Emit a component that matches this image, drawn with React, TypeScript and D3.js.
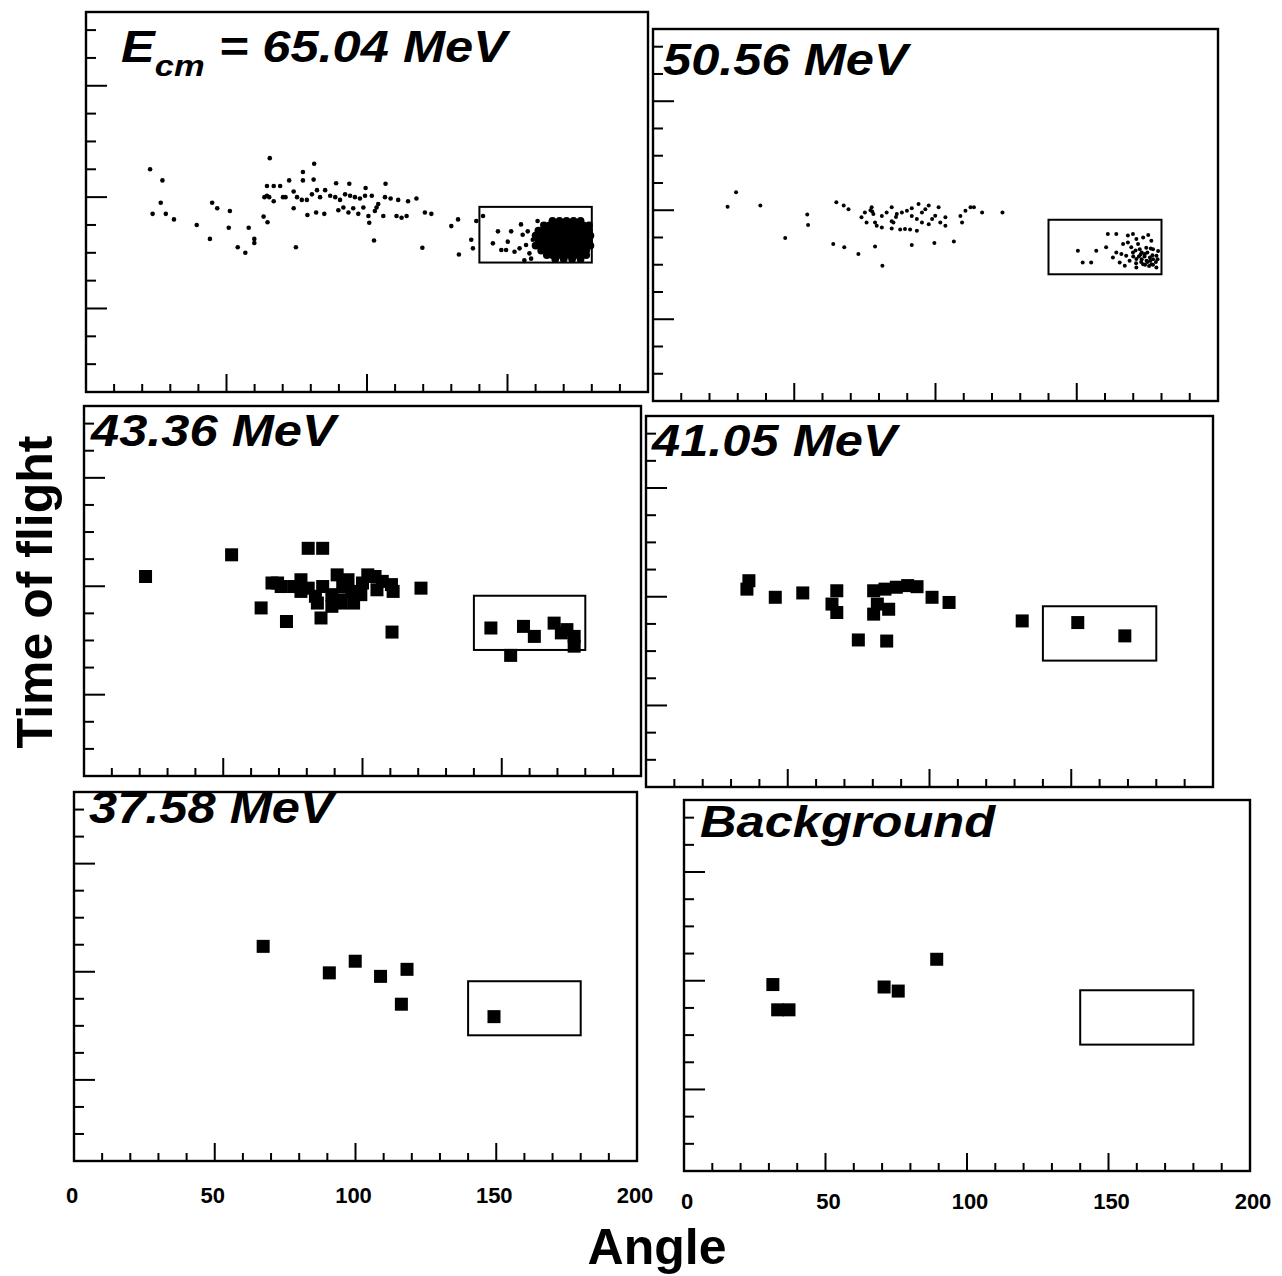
import * as d3 from 'd3'
import { useEffect, useRef } from 'react'

const W = 1282, H = 1276
const FONT = "'Liberation Sans', Arial, Helvetica, sans-serif"

// axes: angle (deg) and time-of-flight (channels, arbitrary)
const angleDomain = [0, 200]
const tofDomain = [0, 13.65]
const angleLabels = [0, 50, 100, 150, 200]
const angleMajor = [50, 100, 150]
const angleMinor = [10, 20, 30, 40, 60, 70, 80, 90, 110, 120, 130, 140, 160, 170, 180, 190]
const tofMajor = [3, 7, 11]
const tofMinor = [1, 2, 4, 5, 6, 8, 9, 10, 12, 13]

// fusion gate drawn in every panel
const gateAngle = [140, 180]
const gateTof = [4.65, 6.65]

const titles = ['65.04 MeV', '50.56 MeV', '43.36 MeV', '41.05 MeV', '37.58 MeV', 'Background']

// E = 65.04 MeV, single events
const e65Dots = [
  [22.8, 8.0], [27.2, 7.6], [26.6, 6.8], [23.7, 6.4], [28.4, 6.4], [31.3, 6.2], [39.4, 6.0],
  [44.9, 6.8], [46.7, 6.6], [51.2, 6.5], [50.8, 5.9], [57.9, 5.9], [44.1, 5.5], [54.0, 5.2],
  [56.7, 5.0], [59.9, 5.5], [59.9, 5.35], [65.4, 8.4], [63.2, 6.3], [64.6, 6.1], [73.9, 6.6],
  [74.7, 5.2], [81.2, 8.2], [77.2, 7.9], [77.2, 7.6], [72.3, 7.6], [64.4, 7.4], [66.8, 7.4], [69.1, 7.4],
  [63.5, 7.0], [64.4, 7.05], [65.2, 7.0], [66.8, 6.85], [70.1, 7.0], [71.0, 7.0], [73.9, 7.2],
  [75.1, 7.0], [76.8, 6.9], [78.6, 6.9], [80.4, 7.1], [82.2, 7.25], [83.3, 7.0], [85.1, 7.25],
  [86.9, 7.05], [88.7, 7.0], [90.4, 6.9], [92.2, 7.1], [94.0, 7.05], [95.7, 7.0], [97.5, 6.95],
  [99.3, 7.05], [101.7, 7.05], [104.0, 6.75], [106.4, 7.0], [108.4, 6.95], [111.1, 6.9],
  [114.6, 6.85], [117.6, 6.95],
  [78.8, 6.36], [81.9, 6.45], [84.8, 6.4], [89.8, 6.53], [91.6, 6.63], [93.4, 6.45], [95.1, 6.6],
  [96.9, 6.4], [98.7, 6.63], [100.5, 6.32], [102.8, 6.5], [103.4, 6.63], [105.8, 6.32],
  [110.5, 6.32], [112.3, 6.26], [114.1, 6.32], [120.6, 6.45], [122.9, 6.4], [100.8, 6.08],
  [81.0, 7.63], [89.0, 7.5], [93.7, 7.48], [99.5, 7.33], [106.6, 7.48],
  [102.5, 5.44], [119.7, 5.18], [130.0, 5.96], [132.4, 6.2], [132.7, 4.94],
  [137.1, 5.47], [137.7, 5.16], [138.9, 6.14],
  [141.3, 6.32], [144.8, 5.34], [146.6, 5.77], [150.1, 5.4], [151.3, 5.77], [154.8, 6.02],
  [155.4, 5.65], [156.6, 5.28], [154.3, 5.16], [149.5, 5.1], [147.8, 5.1], [152.5, 5.04],
  [157.8, 4.98], [160.7, 6.14], [162.5, 6.02], [159.0, 5.47], [157.2, 5.77], [156.0, 4.73], [158.4, 4.79],
]

// E = 65.04 MeV, the dense fusion group: tof row -> angles
const e65Core = [
  [6.15, [166, 168.5, 171, 173.5, 176]],
  [5.98, [163, 165, 167, 169, 171, 173, 175, 177, 179]],
  [5.8, [161, 163, 165, 167, 169, 171, 173, 175, 177, 179]],
  [5.62, [160, 162, 164, 166, 168, 170, 172, 174, 176, 178, 179.5]],
  [5.44, [161, 163, 165, 167, 169, 171, 173, 175, 177, 179]],
  [5.26, [160, 162, 164, 166, 168, 170, 172, 174, 176, 178, 179.5]],
  [5.08, [162, 164, 166, 168, 170, 172, 174, 176, 178]],
  [4.92, [164, 166, 168, 170, 172, 174, 176, 178]],
  [4.78, [167, 170, 173, 176]],
]

// E = 50.56 MeV
const e50Dots = [
  [29.4, 7.66], [26.4, 7.13], [38.0, 7.17], [54.6, 6.84], [54.9, 6.46], [46.8, 5.98], [63.8, 5.76],
  [67.7, 5.64], [72.7, 5.39], [78.6, 5.67], [81.2, 4.96], [91.6, 5.72], [99.6, 5.8], [106.5, 5.85],
  [64.9, 7.29], [67.5, 7.17], [69.2, 7.04],
  [73.8, 6.74], [75.6, 6.55], [75.0, 6.92], [77.4, 7.11], [78.0, 6.86], [78.6, 6.55], [79.2, 6.43],
  [81.0, 6.79], [82.7, 6.92], [84.5, 7.11], [85.1, 6.55], [86.3, 6.86], [88.1, 6.92], [89.9, 6.98],
  [91.6, 7.07], [91.6, 6.79], [89.2, 6.31], [91.0, 6.29], [93.4, 6.25], [87.5, 6.29], [84.5, 6.33],
  [81.0, 6.37], [94.0, 7.23], [95.2, 6.92], [96.4, 7.04], [97.6, 7.17], [98.8, 6.68], [99.9, 6.8],
  [101.1, 7.11], [101.7, 6.55], [103.5, 6.74], [103.5, 6.43], [95.2, 6.55], [97.6, 6.49],
  [93.4, 6.68], [84.5, 6.6], [86.0, 6.75], [77.0, 7.0], [77.6, 6.95],
  [108.8, 6.79], [110.6, 6.98], [112.4, 7.11], [113.6, 7.11], [109.4, 6.55], [116.5, 6.92], [123.7, 6.92],
  [161.0, 6.13], [164.0, 6.13], [166.4, 5.76], [168.1, 6.07], [169.9, 6.13], [171.1, 5.94],
  [173.5, 6.0], [175.3, 6.09], [176.4, 5.88], [177.0, 5.57], [178.2, 5.33], [169.9, 5.45],
  [171.1, 5.21], [168.7, 5.15], [167.5, 5.33], [165.8, 5.39], [164.0, 5.45], [162.8, 5.27],
  [165.2, 5.08], [167.0, 4.96], [171.1, 4.9], [173.5, 5.02], [174.7, 5.15], [175.9, 5.27],
  [172.3, 5.57], [174.1, 5.39], [169.3, 5.64], [168.1, 5.82], [171.7, 5.76], [176.4, 5.02],
  [178.2, 4.9], [160.4, 5.64], [156.9, 5.51], [150.4, 5.51], [152.1, 5.08], [155.1, 5.08],
  [172, 5.3], [173, 5.2], [174, 5.3], [175, 5.1], [176, 5.15], [177, 5.2], [173, 5.45],
  [170, 5.3], [171, 5.05], [175, 5.45], [177, 5.0], [178, 5.1],
  [172.8, 5.1], [174.2, 5.0], [175.6, 4.95], [176.8, 5.35], [178.6, 5.2], [172.6, 5.38],
  [176.2, 5.6], [174.6, 5.62], [170.8, 5.52], [178.8, 5.5],
]

// lower energies, binned events
const e43Hits = [
  [22.1, 7.36], [53.0, 8.16], [80.5, 8.4], [85.7, 8.4], [69.5, 7.12], [63.6, 6.2], [72.7, 5.7],
  [85.1, 5.83], [110.6, 5.31], [121.0, 6.93],
  [67.5, 7.12], [70.8, 6.99], [77.9, 7.24], [80.5, 6.93], [83.1, 6.63], [83.8, 6.38], [90.9, 7.42],
  [92.9, 6.99], [91.6, 6.5], [96.1, 6.81], [96.8, 6.38], [92.2, 6.38], [101.9, 7.42], [104.5, 7.36],
  [107.1, 7.18], [110.4, 7.06], [111.0, 6.81], [77.9, 6.81], [85.7, 6.99], [89.0, 6.69],
  [100.0, 7.12], [94.8, 7.24], [75.3, 6.99], [105.2, 6.87], [99.4, 6.69], [89.0, 6.26],
  [146.1, 5.46], [157.8, 5.52], [161.7, 5.15], [168.8, 5.64], [173.4, 5.4], [176.0, 5.15],
  [176.0, 4.79], [153.2, 4.45], [171.4, 5.28],
]
const e41Hits = [
  [36.3, 7.59], [35.6, 7.28], [45.6, 6.98], [55.3, 7.14], [67.3, 7.22], [65.6, 6.73], [67.3, 6.42],
  [74.9, 5.41], [84.9, 5.37], [80.3, 7.22], [84.3, 7.28], [88.3, 7.35], [92.3, 7.41], [95.6, 7.37],
  [80.3, 6.36], [85.6, 6.54], [81.6, 6.73], [100.9, 6.98], [106.9, 6.79], [132.7, 6.11],
  [152.3, 6.05], [168.9, 5.56],
]
const e37Hits = [
  [67.2, 7.94], [90.7, 6.96], [99.9, 7.39], [108.9, 6.83], [118.3, 7.09], [116.3, 5.8], [149.2, 5.34],
]
const bgHits = [
  [31.4, 6.86], [33.1, 5.93], [37.1, 5.93], [70.7, 6.77], [75.7, 6.62], [89.3, 7.79],
]

const panelData = [
  { dots: e65Dots, core: e65Core, hits: [] },
  { dots: e50Dots, core: [], hits: [] },
  { dots: [], core: [], hits: e43Hits },
  { dots: [], core: [], hits: e41Hits },
  { dots: [], core: [], hits: e37Hits },
  { dots: [], core: [], hits: bgHits },
]

// page geometry of the six frames (scanned figure, not perfectly aligned)
const layout = [
  { x0: 86, x1: 648, y0: 12, y1: 392, lx: 121, ly: 62, dot: 2.3 },
  { x0: 653, x1: 1218, y0: 29, y1: 401, lx: 663, ly: 75, dot: 2.0 },
  { x0: 84, x1: 641, y0: 406, y1: 776, lx: 91, ly: 446 },
  { x0: 646, x1: 1213, y0: 416, y1: 787, lx: 652, ly: 456 },
  { x0: 74, x1: 637, y0: 792, y1: 1161, lx: 89, ly: 823, tickY: 1203, shift: -2 },
  { x0: 684, x1: 1250, y0: 800, y1: 1171, lx: 700, ly: 837, tickY: 1209, shift: 3 },
]

const chart = (svgNode) => {
  const svg = d3.select(svgNode)
  svg.selectAll('*').remove()
  svg.append('rect').attr('width', W).attr('height', H).attr('fill', '#fff')

  panelData.forEach((p, i) => {
    const L = layout[i]
    const x = d3.scaleLinear().domain(angleDomain).range([L.x0, L.x1])
    const y = d3.scaleLinear().domain(tofDomain).range([L.y1, L.y0])
    const g = svg.append('g')

    g.append('rect')
      .attr('x', L.x0).attr('y', L.y0)
      .attr('width', L.x1 - L.x0).attr('height', L.y1 - L.y0)
      .attr('fill', 'none').attr('stroke', '#000').attr('stroke-width', 2.4)

    const ticks = g.append('g').attr('stroke', '#000').attr('stroke-width', 2)
    ticks.selectAll('.xm').data(angleMinor).join('line')
      .attr('x1', d => x(d)).attr('x2', d => x(d))
      .attr('y1', L.y1).attr('y2', L.y1 - 8)
    ticks.selectAll('.xM').data(angleMajor).join('line')
      .attr('x1', d => x(d)).attr('x2', d => x(d))
      .attr('y1', L.y1).attr('y2', L.y1 - 18)
    ticks.selectAll('.ym').data(tofMinor).join('line')
      .attr('x1', L.x0).attr('x2', L.x0 + 10)
      .attr('y1', d => y(d)).attr('y2', d => y(d))
    ticks.selectAll('.yM').data(tofMajor).join('line')
      .attr('x1', L.x0).attr('x2', L.x0 + 21)
      .attr('y1', d => y(d)).attr('y2', d => y(d))

    // gate
    g.append('rect')
      .attr('x', x(gateAngle[0])).attr('y', y(gateTof[1]))
      .attr('width', x(gateAngle[1]) - x(gateAngle[0]))
      .attr('height', y(gateTof[0]) - y(gateTof[1]))
      .attr('fill', 'none').attr('stroke', '#000').attr('stroke-width', 2)

    g.append('g').selectAll('circle').data(p.dots).join('circle')
      .attr('cx', d => x(d[0])).attr('cy', d => y(d[1]))
      .attr('r', L.dot || 2).attr('fill', '#000')

    const core = p.core.flatMap(([t, as]) => as.map(a => [a, t]))
    g.append('g').selectAll('circle').data(core).join('circle')
      .attr('cx', d => x(d[0])).attr('cy', d => y(d[1]))
      .attr('r', 3.9).attr('fill', '#000')

    g.append('g').selectAll('rect').data(p.hits).join('rect')
      .attr('x', d => x(d[0]) - 6.5).attr('y', d => y(d[1]) - 6.5)
      .attr('width', 13).attr('height', 13).attr('fill', '#000')

    // panel label
    const lab = g.append('text')
      .attr('transform', `translate(${L.lx},${L.ly}) scale(1.15,1)`)
      .attr('font-family', FONT).attr('font-weight', 'bold').attr('font-style', 'italic')
      .attr('font-size', 44).attr('fill', '#000')
    if (i === 0) {
      lab.append('tspan').text('E')
      lab.append('tspan').attr('font-size', 30).attr('dy', 14).text('cm')
      lab.append('tspan').attr('dy', -14).text(` = ${titles[0]}`)
    } else {
      lab.text(titles[i])
    }

    // angle labels only under the bottom row
    if (L.tickY) {
      g.append('g').selectAll('text').data(angleLabels).join('text')
        .attr('x', d => x(d) + L.shift).attr('y', L.tickY)
        .attr('text-anchor', 'middle')
        .attr('font-family', FONT).attr('font-weight', 'bold').attr('font-size', 22)
        .text(d => d)
    }
  })

  svg.append('text')
    .attr('transform', 'translate(52,592) rotate(-90)')
    .attr('text-anchor', 'middle')
    .attr('font-family', FONT).attr('font-weight', 'bold').attr('font-size', 50)
    .text('Time of flight')

  svg.append('text')
    .attr('x', 657).attr('y', 1264)
    .attr('text-anchor', 'middle')
    .attr('font-family', FONT).attr('font-weight', 'bold').attr('font-size', 50)
    .text('Angle')
}

export default function App() {
  const svg = useRef(null)
  useEffect(() => {
    if (svg.current) chart(svg.current)
  }, [])
  return (
    <svg ref={svg} width={W} height={H}
      style={{ position: 'absolute', left: 0, top: 0, display: 'block' }} />
  )
}
